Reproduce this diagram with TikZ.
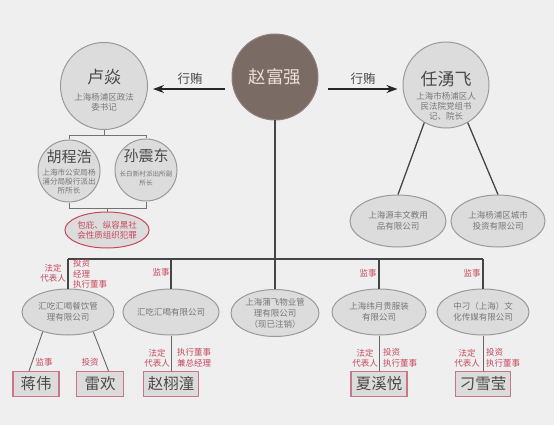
\documentclass[tikz,border=0pt]{standalone}
\usepackage{fontspec}
\setmainfont{Noto Sans CJK SC}
\usetikzlibrary{shapes.geometric,arrows.meta}
\definecolor{bgc}{HTML}{EFEFEF}
\definecolor{cfill}{HTML}{DCDCDC}
\definecolor{cline}{HTML}{9A9A9A}
\definecolor{bossc}{HTML}{7A6B65}
\definecolor{bosstxt}{HTML}{EAE2DA}
\definecolor{rd}{HTML}{C8465C}
\definecolor{boxline}{HTML}{C97786}
\definecolor{txt}{HTML}{4A4A4A}
\definecolor{dtxt}{HTML}{777777}
\definecolor{wirec}{HTML}{454545}
\begin{document}
\begin{tikzpicture}[x=1pt,y=-1pt,
 person/.style={circle,draw=cline,fill=cfill,line width=1pt,inner sep=0},
 pname/.style={font=\fontsize{17}{20}\selectfont,text=txt,inner sep=0},
 pdesc/.style={font=\fontsize{8.5}{10}\selectfont,text=dtxt,align=center,inner sep=0},
 comp/.style={ellipse,draw=cline,fill=cfill,line width=1pt,inner sep=0,font=\fontsize{8.5}{11}\selectfont,text=dtxt,align=center},
 rlabel/.style={font=\fontsize{8.5}{10.5}\selectfont,text=rd,inner sep=0},
 namebox/.style={rectangle,draw=boxline,fill=cfill,line width=1.2pt,minimum height=25pt,inner sep=0,font=\fontsize{15.5}{18}\selectfont,text=txt},
 buswire/.style={draw=wirec,line width=1.7pt},
 branch/.style={draw=black!55,line width=0.9pt},
 leg/.style={draw=black!60,line width=0.9pt},
 bribe/.style={draw=black!85,line width=2.2pt,-{Stealth[length=11pt,width=8pt]}},
 bribetxt/.style={font=\fontsize{12.5}{14}\selectfont,text=txt,inner sep=0},
]
\useasboundingbox (0,0) rectangle (554,425);
\fill[bgc] (0,0) rectangle (554,425);

% central figure
\node[person,fill=bossc,draw=bossc!85!white,minimum size=86pt,font=\fontsize{17.5}{20}\selectfont,text=bosstxt] (zfq) at (275,77) {赵富强};

% Lu Yan
\node[person,minimum size=87pt] (lu) at (104,86) {};
\node[pname] (lun) at (104,77) {卢焱};
\node[pdesc] (lud) at (104,102) {上海杨浦区政法\\委书记};

% Ren Yongfei
\node[person,minimum size=86pt] (ren) at (446,85) {};
\node[pname] (renn) at (446,79) {任湧飞};
\node[pdesc] (rend) at (446,106) {上海市杨浦区人\\民法院党组书\\记、院长};

% bribery arrows
\draw[bribe,shorten <=7pt,shorten >=5pt] ([yshift=-12pt]zfq.west) -- ([yshift=-3pt]lu.east);
\draw[bribe,shorten <=9pt,shorten >=5pt] ([yshift=-12pt]zfq.east) -- ([yshift=-4pt]ren.west);
\node[bribetxt] (b1) at (190,79) {行贿};
\node[bribetxt] (b2) at (363,79) {行贿};

% Hu and Sun
\node[person,minimum size=62pt] (hu) at (69,171) {};
\node[pname,font=\fontsize{15}{18}\selectfont] (hun) at (69,157) {胡程浩};
\node[pdesc,font=\fontsize{7.6}{9}\selectfont] (hud) at (69,182) {上海市公安局杨\\浦分局殷行派出\\所所长};
\node[person,minimum size=62pt] (sun) at (146,170) {};
\node[pname,font=\fontsize{15}{18}\selectfont] (sunn) at (146,156) {孙震东};
\node[pdesc,font=\fontsize{6.6}{9}\selectfont] (sund) at (146,178) {长白新村派出所副\\所长};
\coordinate (bt) at (104,135);
\draw[branch] (lu.south) -- (bt);
\draw[branch] (hu.north) -- (hu.north |- bt) -- (sun.north |- bt) -- (sun.north);
\node[ellipse,draw=rd,fill=cfill,line width=1pt,inner sep=0,minimum width=70pt,minimum height=36pt,font=\fontsize{8.5}{10}\selectfont,text=rd,align=center] (crime) at (107,230) {包庇、纵容黑社\\会性质组织犯罪};
\coordinate (bb) at (107,208);
\draw[branch] (hu.south) -- (hu.south |- bb) -- (sun.south |- bb) -- (sun.south);
\draw[branch] (bb) -- (crime.north);

% Ren's companies
\node[comp,minimum width=96pt,minimum height=52pt] (yu1) at (398,221) {上海源丰文教用\\品有限公司};
\node[comp,minimum width=94pt,minimum height=52pt] (yu2) at (498,221) {上海杨浦区城市\\投资有限公司};
\draw[buswire,line width=1.3pt] (ren.240) -- (yu1.north);
\draw[buswire,line width=1.3pt] (ren.300) -- (yu2.north);

% companies of Zhao
\node[comp,minimum width=92pt,minimum height=46pt] (e1) at (68,312) {汇吃汇喝餐饮管\\理有限公司};
\node[comp,minimum width=86pt,minimum height=46pt] (e2) at (171,312) {汇吃汇喝有限公司};
\node[comp,minimum width=88pt,minimum height=47pt] (e3) at (275,313) {上海蒲飞物业管\\理有限公司\\（现已注销）};
\node[comp,minimum width=94pt,minimum height=46pt] (e4) at (379,312) {上海纬月贵服装\\有限公司};
\node[comp,minimum width=92pt,minimum height=46pt] (e5) at (483,312) {中刁（上海）文\\化传媒有限公司};
\coordinate (busL) at (68,259);
\coordinate (busR) at (483,259);
\draw[buswire] (busL) -- (busR);
\draw[buswire] (zfq.south) -- (zfq.south |- busL);
\foreach \e in {e1,e2,e3,e4,e5} \draw[buswire] (\e.north) -- (\e.north |- busL);

% role labels on bus
\node[rlabel,align=center] (r1a) at (53,273) {法定\\代表人};
\node[rlabel,align=left,anchor=west] (r1b) at (73,274) {投资\\经理\\执行董事};
\node[rlabel] (r2) at (161,272) {监事};
\node[rlabel] (r4) at (368,273) {监事};
\node[rlabel] (r5) at (472,273) {监事};

% persons at bottom
\node[namebox,minimum width=46pt] (jw) at (36,384) {蒋伟};
\node[namebox,minimum width=47pt] (lh) at (100,384) {雷欢};
\node[namebox,minimum width=55pt] (zxt) at (171,384) {赵栩潼};
\node[namebox,minimum width=56pt] (xxy) at (379,384) {夏溪悦};
\node[namebox,minimum width=55pt] (dxy) at (483,384) {刁雪莹};
\draw[leg] (e1.218) -- (jw.118);
\draw[leg] (e1.322) -- (lh.57);
\draw[leg] (e2.south) -- (zxt.north);
\draw[leg] (e4.south) -- (xxy.north);
\draw[leg] (e5.south) -- (dxy.north);

\node[rlabel] (s1) at (44,362) {监事};
\node[rlabel] (s2) at (90,362) {投资};
\node[rlabel,align=center] (s3a) at (157,358) {法定\\代表人};
\node[rlabel,align=left,anchor=west] (s3b) at (177,358) {执行董事\\兼总经理};
\node[rlabel,align=center] (s4a) at (365,358) {法定\\代表人};
\node[rlabel,align=left,anchor=west] (s4b) at (383,358) {投资\\执行董事};
\node[rlabel,align=center] (s5a) at (467,358) {法定\\代表人};
\node[rlabel,align=left,anchor=west] (s5b) at (486,358) {投资\\执行董事};
\end{tikzpicture}
\end{document}
